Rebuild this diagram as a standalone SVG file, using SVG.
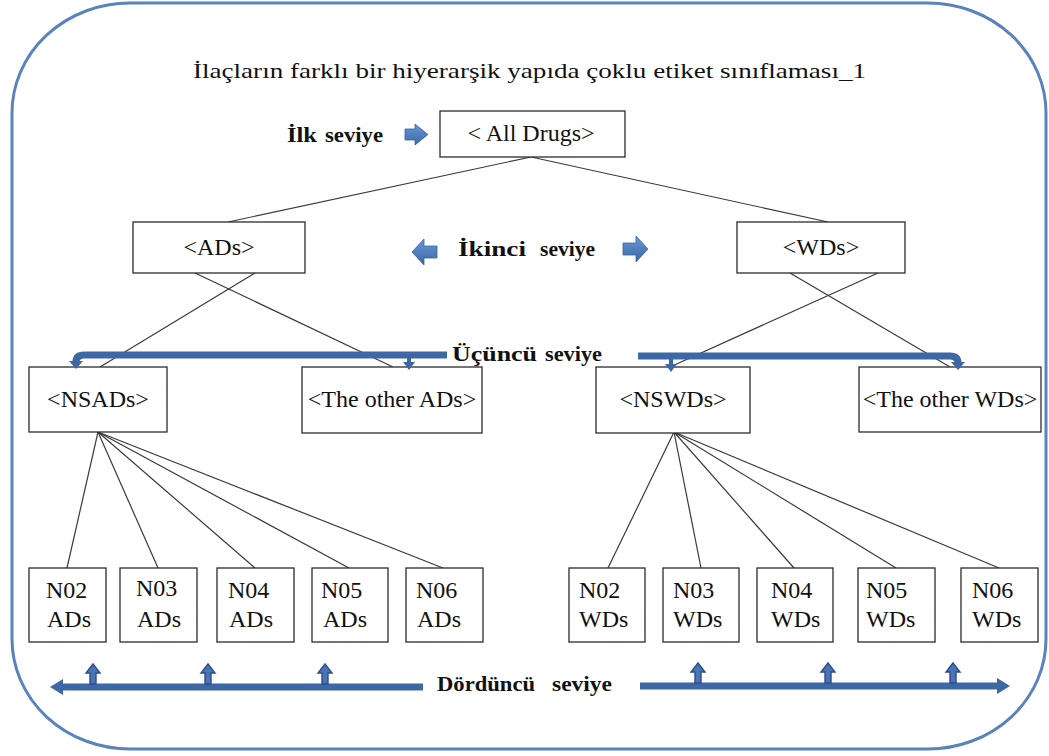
<svg xmlns="http://www.w3.org/2000/svg" width="1049" height="756" viewBox="0 0 1049 756" font-family="Liberation Serif, Tinos, DejaVu Serif, Noto Serif, serif">
  <defs>
    <linearGradient id="blockFill" x1="0" y1="0" x2="0" y2="1">
      <stop offset="0" stop-color="#6a97d6"/>
      <stop offset="1" stop-color="#3a67a6"/>
    </linearGradient>
    <style>
      .frame { fill: #ffffff; stroke: #5a83bd; stroke-width: 3; }
      .box { fill: #ffffff; stroke: #2b2b2b; stroke-width: 1.3; }
      .edge { stroke: #3a3a3a; stroke-width: 1.2; fill: none; }
      text { fill: #111; }
      .lbl { font-size: 24px; }
      .mid { text-anchor: middle; }
      .title { font-size: 22px; }
      .lvl { font-size: 21px; font-weight: bold; }
      .block { fill: url(#blockFill); stroke: #3b62a0; stroke-width: 0.8; }
      .bar { stroke: #3e67a5; stroke-width: 7; fill: none; stroke-linecap: butt; }
      .tick { stroke: #3e67a5; stroke-width: 4; fill: none; }
      .head { fill: #3e67a5; }
      .up { fill: #4a74b4; stroke: #2c4f88; stroke-width: 1.4; }
    </style>
  </defs>

  <!-- outer rounded frame -->
  <rect class="frame" x="12" y="3" width="1034" height="746" rx="118" ry="110"/>

  <!-- title -->
  <text class="title" x="193" y="78" textLength="673" lengthAdjust="spacingAndGlyphs">İlaçların farklı bir hiyerarşik yapıda çoklu etiket sınıflaması_1</text>

  <!-- connectors -->
  <g id="connectors">
    <line class="edge" x1="531" y1="157" x2="228" y2="222"/>
    <line class="edge" x1="531" y1="157" x2="828" y2="222"/>
    <line class="edge" x1="255" y1="273" x2="100" y2="367"/>
    <line class="edge" x1="195" y1="273" x2="393" y2="367"/>
    <line class="edge" x1="878" y1="273" x2="670" y2="367"/>
    <line class="edge" x1="790" y1="273" x2="950" y2="367"/>
    <line class="edge" x1="98" y1="432" x2="67" y2="568"/>
    <line class="edge" x1="98" y1="432" x2="158" y2="568"/>
    <line class="edge" x1="98" y1="432" x2="255" y2="568"/>
    <line class="edge" x1="98" y1="432" x2="349" y2="568"/>
    <line class="edge" x1="98" y1="432" x2="443" y2="568"/>
    <line class="edge" x1="674" y1="432" x2="608" y2="568"/>
    <line class="edge" x1="674" y1="432" x2="701" y2="568"/>
    <line class="edge" x1="674" y1="432" x2="794" y2="568"/>
    <line class="edge" x1="674" y1="432" x2="896" y2="568"/>
    <line class="edge" x1="674" y1="432" x2="999" y2="568"/>
  </g>

  <!-- level 1 -->
  <g id="all-drugs">
    <rect class="box" x="440" y="111" width="185" height="46"/>
    <text class="lbl mid" x="531" y="141">&lt; All Drugs&gt;</text>
  </g>

  <!-- level 2 -->
  <g id="ads">
    <rect class="box" x="133" y="222" width="172" height="51"/>
    <text class="lbl mid" x="219" y="255">&lt;ADs&gt;</text>
  </g>
  <g id="wds">
    <rect class="box" x="737" y="222" width="168" height="51"/>
    <text class="lbl mid" x="821" y="255">&lt;WDs&gt;</text>
  </g>

  <!-- level 3 -->
  <g id="nsads">
    <rect class="box" x="29" y="367" width="138" height="65"/>
    <text class="lbl mid" x="98" y="407">&lt;NSADs&gt;</text>
  </g>
  <g id="other-ads">
    <rect class="box" x="302" y="367" width="180" height="66"/>
    <text class="lbl mid" x="392" y="407">&lt;The other ADs&gt;</text>
  </g>
  <g id="nswds">
    <rect class="box" x="596" y="367" width="154" height="66"/>
    <text class="lbl mid" x="673" y="407">&lt;NSWDs&gt;</text>
  </g>
  <g id="other-wds">
    <rect class="box" x="859" y="367" width="182" height="65"/>
    <text class="lbl mid" x="950" y="407">&lt;The other WDs&gt;</text>
  </g>

  <!-- level 4, ADs -->
  <g id="n02-ads">
    <rect class="box" x="29" y="568" width="77" height="74"/>
    <text class="lbl"><tspan x="46" y="598">N02</tspan><tspan x="47" y="627">ADs</tspan></text>
  </g>
  <g id="n03-ads">
    <rect class="box" x="120" y="568" width="77" height="74"/>
    <text class="lbl"><tspan x="136" y="596">N03</tspan><tspan x="137" y="627">ADs</tspan></text>
  </g>
  <g id="n04-ads">
    <rect class="box" x="217" y="568" width="77" height="74"/>
    <text class="lbl"><tspan x="228" y="598">N04</tspan><tspan x="229" y="627">ADs</tspan></text>
  </g>
  <g id="n05-ads">
    <rect class="box" x="312" y="568" width="76" height="74"/>
    <text class="lbl"><tspan x="321" y="598">N05</tspan><tspan x="323" y="627">ADs</tspan></text>
  </g>
  <g id="n06-ads">
    <rect class="box" x="406" y="568" width="77" height="74"/>
    <text class="lbl"><tspan x="416" y="598">N06</tspan><tspan x="417" y="627">ADs</tspan></text>
  </g>

  <!-- level 4, WDs -->
  <g id="n02-wds">
    <rect class="box" x="569" y="568" width="76" height="74"/>
    <text class="lbl"><tspan x="579" y="598">N02</tspan><tspan x="579" y="627">WDs</tspan></text>
  </g>
  <g id="n03-wds">
    <rect class="box" x="663" y="568" width="76" height="74"/>
    <text class="lbl"><tspan x="673" y="598">N03</tspan><tspan x="673" y="627">WDs</tspan></text>
  </g>
  <g id="n04-wds">
    <rect class="box" x="757" y="568" width="76" height="74"/>
    <text class="lbl"><tspan x="771" y="598">N04</tspan><tspan x="771" y="627">WDs</tspan></text>
  </g>
  <g id="n05-wds">
    <rect class="box" x="858" y="568" width="77" height="74"/>
    <text class="lbl"><tspan x="866" y="598">N05</tspan><tspan x="866" y="627">WDs</tspan></text>
  </g>
  <g id="n06-wds">
    <rect class="box" x="961" y="568" width="77" height="74"/>
    <text class="lbl"><tspan x="972" y="598">N06</tspan><tspan x="972" y="627">WDs</tspan></text>
  </g>

  <!-- level labels and pointers -->
  <g id="level-1">
    <text class="lvl"><tspan x="287" y="142" textLength="30" lengthAdjust="spacingAndGlyphs">İlk</tspan><tspan x="325" y="142" textLength="58" lengthAdjust="spacingAndGlyphs">seviye</tspan></text>
    <polygon class="block" points="405,129 415,129 415,124 428,134.5 415,145 415,140 405,140"/>
  </g>

  <g id="level-2">
    <polygon class="block" points="412,252 424,239 424,246 437,246 437,258 424,258 424,265"/>
    <text class="lvl"><tspan x="458" y="256" textLength="68" lengthAdjust="spacingAndGlyphs">İkinci</tspan><tspan x="540" y="256" textLength="55" lengthAdjust="spacingAndGlyphs">seviye</tspan></text>
    <polygon class="block" points="648,249 636,236 636,243 623,243 623,255 636,255 636,262"/>
  </g>

  <g id="level-3">
    <text class="lvl"><tspan x="452" y="361" textLength="85" lengthAdjust="spacingAndGlyphs">Üçüncü</tspan><tspan x="545" y="361" textLength="57" lengthAdjust="spacingAndGlyphs">seviye</tspan></text>
    <!-- left bracket -->
    <path class="bar" d="M447,355 H84 Q76,355 76,362"/>
    <polygon class="head" points="69,361 83,361 76,369"/>
    <line class="tick" x1="409" y1="355" x2="409" y2="364"/>
    <polygon class="head" points="403,362 415,362 409,370"/>
    <!-- right bracket -->
    <path class="bar" d="M638,356 H950 Q958,356 958,363"/>
    <polygon class="head" points="951,362 965,362 958,370"/>
    <line class="tick" x1="671" y1="356" x2="671" y2="365"/>
    <polygon class="head" points="665,364 677,364 671,372"/>
  </g>

  <g id="level-4">
    <text class="lvl"><tspan x="437" y="691" textLength="98" lengthAdjust="spacingAndGlyphs">Dördüncü</tspan><tspan x="552" y="691" textLength="60" lengthAdjust="spacingAndGlyphs">seviye</tspan></text>
    <!-- left arrow -->
    <polygon class="head" points="50,687 63,679 63,683.5 423,683.5 423,690.5 63,690.5 63,695"/>
    <polygon class="up" points="90,684 90,673 86,673 93,664 100,673 96,673 96,684"/>
    <polygon class="up" points="205,684 205,673 201,673 208,664 215,673 211,673 211,684"/>
    <polygon class="up" points="322,684 322,673 318,673 325,664 332,673 328,673 328,684"/>
    <!-- right arrow -->
    <polygon class="head" points="1010,686 997,678 997,682.5 640,682.5 640,689.5 997,689.5 997,694"/>
    <polygon class="up" points="695,683 695,672 691,672 698,663 705,672 701,672 701,683"/>
    <polygon class="up" points="825,683 825,672 821,672 828,663 835,672 831,672 831,683"/>
    <polygon class="up" points="950,683 950,672 946,672 953,663 960,672 956,672 956,683"/>
  </g>
</svg>
